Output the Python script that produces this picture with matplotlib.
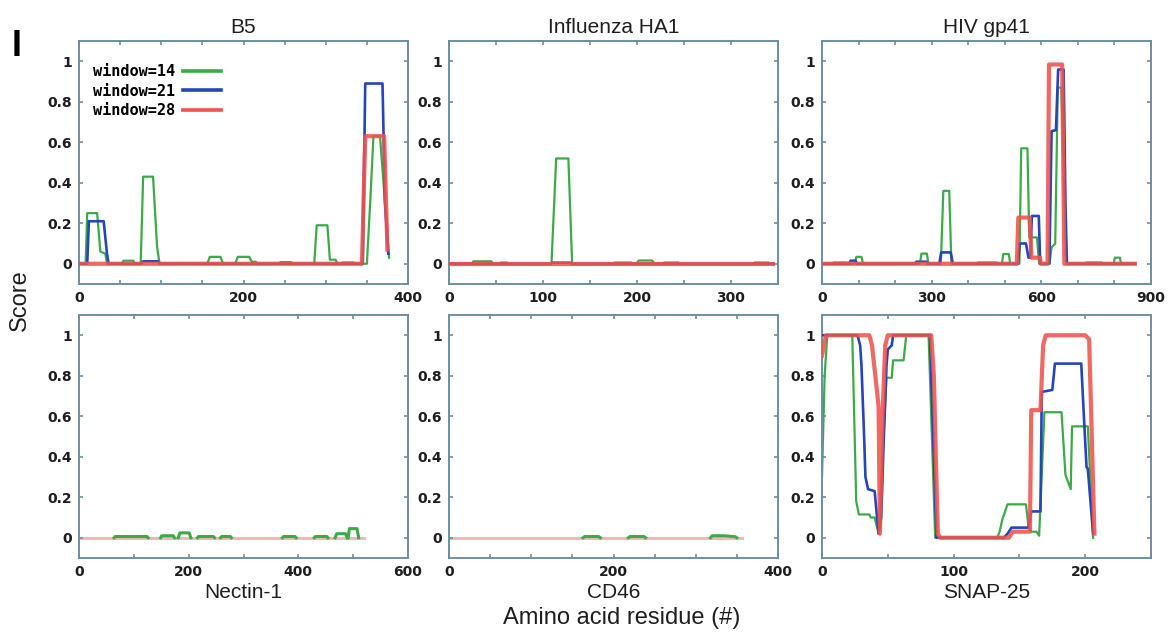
import numpy as np
import matplotlib.pyplot as plt
from matplotlib.ticker import MultipleLocator, FixedLocator

# score profiles, three window sizes per protein
b5_green_x = [0, 8, 10, 22, 26, 32, 34, 52, 54, 66, 68, 75, 78, 90, 95, 98, 156, 159, 172, 175,
              190, 193, 207, 210, 215, 217, 243, 245, 258, 260, 286, 289, 302, 305, 312, 314,
              318, 320, 334, 336, 350, 354, 358, 366, 372, 377]
b5_green_y = [0, 0, 0.25, 0.25, 0.06, 0.05, 0, 0, 0.015, 0.015, 0, 0, 0.43, 0.43, 0.08, 0, 0, 0.034, 0.034, 0,
              0, 0.034, 0.034, 0.01, 0.01, 0, 0, 0.008, 0.008, 0, 0, 0.19, 0.19, 0.02, 0.02, 0,
              0, 0.006, 0.006, 0, 0, 0.3, 0.63, 0.63, 0.3, 0.03]
b5_blue_x = [0, 10, 12, 30, 34, 36, 76, 78, 96, 98, 345, 348, 369, 372, 376]
b5_blue_y = [0, 0, 0.21, 0.21, 0.05, 0, 0, 0.012, 0.012, 0, 0, 0.89, 0.89, 0.3, 0.05]
b5_red_x = [0, 344, 348, 371, 375]
b5_red_y = [0, 0, 0.63, 0.63, 0.07]

ha1_green_x = [0, 24, 26, 45, 47, 53, 55, 62, 64, 107, 109, 114, 127, 131, 174, 176, 194, 196,
               199, 202, 216, 219, 227, 229, 244, 246, 323, 325, 340, 342]
ha1_green_y = [0, 0, 0.012, 0.012, 0, 0, 0.006, 0.006, 0, 0, 0, 0.52, 0.52, 0, 0, 0.006, 0.006, 0,
               0, 0.016, 0.016, 0, 0, 0.006, 0.006, 0, 0, 0.006, 0.006, 0]
ha1_blue_x = [0, 108, 110, 129, 131, 345]
ha1_blue_y = [0, 0, 0.005, 0.005, 0, 0]
ha1_red_x = [0, 345]
ha1_red_y = [0, 0]

hiv_green_x = [0, 30, 32, 68, 70, 90, 94, 108, 112, 268, 272, 287, 291, 325, 332, 348, 354,
               424, 426, 478, 480, 492, 496, 511, 515, 540, 545, 562, 567, 588, 594,
               622, 628, 638, 645, 655, 668, 721, 723, 765, 767, 798, 801, 815, 818, 856]
hiv_green_y = [0, 0, 0.006, 0.006, 0, 0, 0.034, 0.034, 0, 0, 0.05, 0.05, 0, 0, 0.36, 0.36, 0,
               0, 0.006, 0.006, 0, 0, 0.048, 0.048, 0, 0, 0.57, 0.57, 0.13, 0.13, 0,
               0, 0.08, 0.1, 0.87, 0.87, 0, 0, 0.006, 0.006, 0, 0, 0.03, 0.03, 0, 0]
hiv_blue_x = [0, 74, 78, 92, 96, 255, 258, 286, 289, 321, 326, 352, 358, 536, 541, 558, 565,
              570, 574, 593, 597, 622, 628, 640, 646, 661, 666, 670, 856]
hiv_blue_y = [0, 0, 0.015, 0.015, 0, 0, 0.01, 0.01, 0, 0, 0.056, 0.056, 0, 0, 0.1, 0.1, 0.03,
              0.03, 0.236, 0.236, 0, 0, 0.655, 0.66, 0.959, 0.959, 0.3, 0, 0]
hiv_red_x = [0, 533, 537, 568, 573, 596, 599, 617, 621, 657, 663, 856]
hiv_red_y = [0, 0, 0.228, 0.228, 0.03, 0.03, 0, 0, 0.984, 0.984, 0, 0]

nec_green_x = [0, 64, 66, 124, 126, 149, 151, 172, 174, 181, 184, 201, 204, 216, 218, 245, 247,
               258, 260, 276, 278, 371, 373, 394, 396, 429, 431, 452, 454, 467, 470, 486, 489,
               491, 493, 507, 510]
nec_green_y = [0, 0, 0.006, 0.006, 0, 0, 0.01, 0.01, 0, 0, 0.024, 0.024, 0, 0, 0.006, 0.006, 0,
               0, 0.006, 0.006, 0, 0, 0.006, 0.006, 0, 0, 0.006, 0.006, 0, 0, 0.02, 0.02, 0,
               0, 0.045, 0.045, 0]
nec_red_x = [0, 519]
nec_red_y = [0, 0]

cd46_green_x = [0, 163, 165, 182, 184, 218, 220, 237, 239, 318, 320, 335, 348, 350]
cd46_green_y = [0, 0, 0.006, 0.006, 0, 0, 0.006, 0.006, 0, 0, 0.01, 0.01, 0.005, 0]
cd46_red_x = [0, 356]
cd46_red_y = [0, 0]

snap_green_x = [0, 2, 4, 23, 26, 28, 36, 37, 40, 43, 49, 53, 54, 62, 64, 81, 86, 133, 135, 137,
                141, 155, 157, 159, 163, 165, 169, 182, 185, 189, 190, 202, 206]
snap_green_y = [0.3, 0.8, 1, 1, 0.18, 0.115, 0.115, 0.1, 0.1, 0.02, 0.79, 0.79, 0.876, 0.876, 1, 1, 0, 0, 0.03, 0.09,
                0.165, 0.165, 0.05, 0.03, 0.03, 0.01, 0.62, 0.62, 0.31, 0.24, 0.55, 0.55, 0]
snap_blue_x = [0, 27, 29, 30, 32, 33, 35, 40, 43, 45, 47, 49, 50, 53, 54, 82, 87, 138, 141, 144,
               157, 159, 166, 167, 175, 177, 197, 199, 201, 202, 206]
snap_blue_y = [1, 1, 0.95, 0.85, 0.5, 0.3, 0.24, 0.23, 0.02, 0.1, 0.5, 0.85, 0.93, 0.95, 1, 1, 0, 0, 0.02, 0.05,
               0.05, 0.13, 0.13, 0.72, 0.73, 0.86, 0.86, 0.6, 0.35, 0.34, 0.02]
snap_red_x = [0, 3, 36, 38, 43, 44, 46, 48, 50, 83, 85, 86.5, 88, 90, 142, 145, 158, 159, 166,
              168, 170, 200, 203, 205, 207]
snap_red_y = [0.9, 1, 1, 0.95, 0.65, 0.02, 0.6, 0.95, 1, 1, 0.8, 0.4, 0.02, 0, 0, 0.03, 0.03, 0.63, 0.63,
              0.95, 1, 1, 0.98, 0.5, 0.02]

titles_top = ["B5", "Influenza HA1", "HIV gp41"]
titles_bottom = ["Nectin-1", "CD46", "SNAP-25"]
xlims = [400, 350, 900, 600, 400, 250]
xlabel_ticks = [[0, 200, 400], [0, 100, 200, 300], [0, 300, 600, 900],
                [0, 200, 400, 600], [0, 200, 400], [0, 100, 200]]
xminor = [50, 50, 100, 100, 50, 50]
ytick_vals = [0, 0.2, 0.4, 0.6, 0.8, 1]
ytick_text = ["0", "0.2", "0.4", "0.6", "0.8", "1"]
legend_labels = ["window=14", "window=21", "window=28"]

green = "#3aab46"
blue = "#2446b8"
red = "#f0524c"
pink = "#f7b4ba"
spine = "#6b8fa2"
textc = "#1e1e1e"


def break_zero_runs(x, y):
    # put a gap into every flat stretch at zero so only the raised bits show
    xs, ys = [], []
    for k in range(len(x)):
        xs.append(x[k])
        ys.append(y[k])
        if k < len(x) - 1 and y[k] == 0 and y[k + 1] == 0:
            xs.append(x[k])
            ys.append(np.nan)
    return xs, ys


W, H = 1174, 633
fig = plt.figure(figsize=(W / 100, H / 100), dpi=100)
fig.set_facecolor("white")

lefts = [79, 449, 822]
tops = [41, 315]
aw, ah = 329, 243

axes = []
for r in range(2):
    for c in range(3):
        ax = fig.add_axes([lefts[c] / W, 1 - (tops[r] + ah) / H, aw / W, ah / H])
        axes.append(ax)

series = [
    (b5_green_x, b5_green_y, b5_blue_x, b5_blue_y, b5_red_x, b5_red_y),
    (ha1_green_x, ha1_green_y, ha1_blue_x, ha1_blue_y, ha1_red_x, ha1_red_y),
    (hiv_green_x, hiv_green_y, hiv_blue_x, hiv_blue_y, hiv_red_x, hiv_red_y),
    (nec_green_x, nec_green_y, None, None, nec_red_x, nec_red_y),
    (cd46_green_x, cd46_green_y, None, None, cd46_red_x, cd46_red_y),
    (snap_green_x, snap_green_y, snap_blue_x, snap_blue_y, snap_red_x, snap_red_y),
]

handles = []
for i, ax in enumerate(axes):
    gx, gy, bx, by, rx, ry = series[i]
    if i in (3, 4):
        lr, = ax.plot(rx, ry, color=pink, lw=2.2, zorder=1)
        bgx, bgy = break_zero_runs(gx, gy)
        lg, = ax.plot(bgx, bgy, color=green, lw=2.2, zorder=2)
    else:
        lg, = ax.plot(gx, gy, color=green, lw=1.6, zorder=2)
        lr, = ax.plot(rx, ry, color=red, lw=3.0, alpha=0.88, zorder=4)
    lb = None
    if bx is not None:
        lb, = ax.plot(bx, by, color=blue, lw=1.9, zorder=3)
    if i == 0:
        handles = [lg, lb, lr]

    ax.set_xlim(0, xlims[i])
    ax.set_ylim(-0.1, 1.1)
    ax.xaxis.set_major_locator(FixedLocator(xlabel_ticks[i]))
    ax.xaxis.set_minor_locator(MultipleLocator(xminor[i]))
    ax.set_yticks(ytick_vals)
    ax.set_yticklabels(ytick_text)
    ax.tick_params(which="both", direction="in", top=True, right=True,
                   length=3, width=1.2, color=spine,
                   labelsize=10, labelcolor=textc, pad=5)
    for lab in ax.get_xticklabels() + ax.get_yticklabels():
        lab.set_fontweight("bold")
    for s in ax.spines.values():
        s.set_color(spine)
        s.set_linewidth(1.4)

    if i < 3:
        ax.set_title(titles_top[i], fontsize=15, family="Liberation Sans",
                     color=textc, pad=6)
    else:
        ax.set_xlabel(titles_bottom[i - 3], fontsize=15, family="Liberation Sans",
                      color=textc, labelpad=3)

leg = axes[0].legend(handles, legend_labels, loc="upper left",
                     bbox_to_anchor=(0.042, 0.905), markerfirst=False, frameon=False,
                     handlelength=2.5, handletextpad=0.5, labelspacing=0.3,
                     borderaxespad=0, borderpad=0,
                     prop={"family": "DejaVu Sans Mono", "weight": "bold", "size": 11})
for h in leg.get_lines():
    h.set_linewidth(2.6)
    h.set_alpha(1)

fig.text(622 / W, 1 - 618 / H, "Amino acid residue (#)", ha="center", va="center",
         fontsize=17, family="Liberation Sans", color=textc)
fig.text(20 / W, 1 - 300 / H, "Score", ha="center", va="center", rotation=90,
         fontsize=17, family="Liberation Sans", color=textc)
fig.text(17 / W, 1 - 46 / H, "I", ha="center", va="center",
         fontsize=26, fontweight="bold", family="Liberation Sans", color="black")

fig.savefig("out.png", dpi=100, facecolor="white")
